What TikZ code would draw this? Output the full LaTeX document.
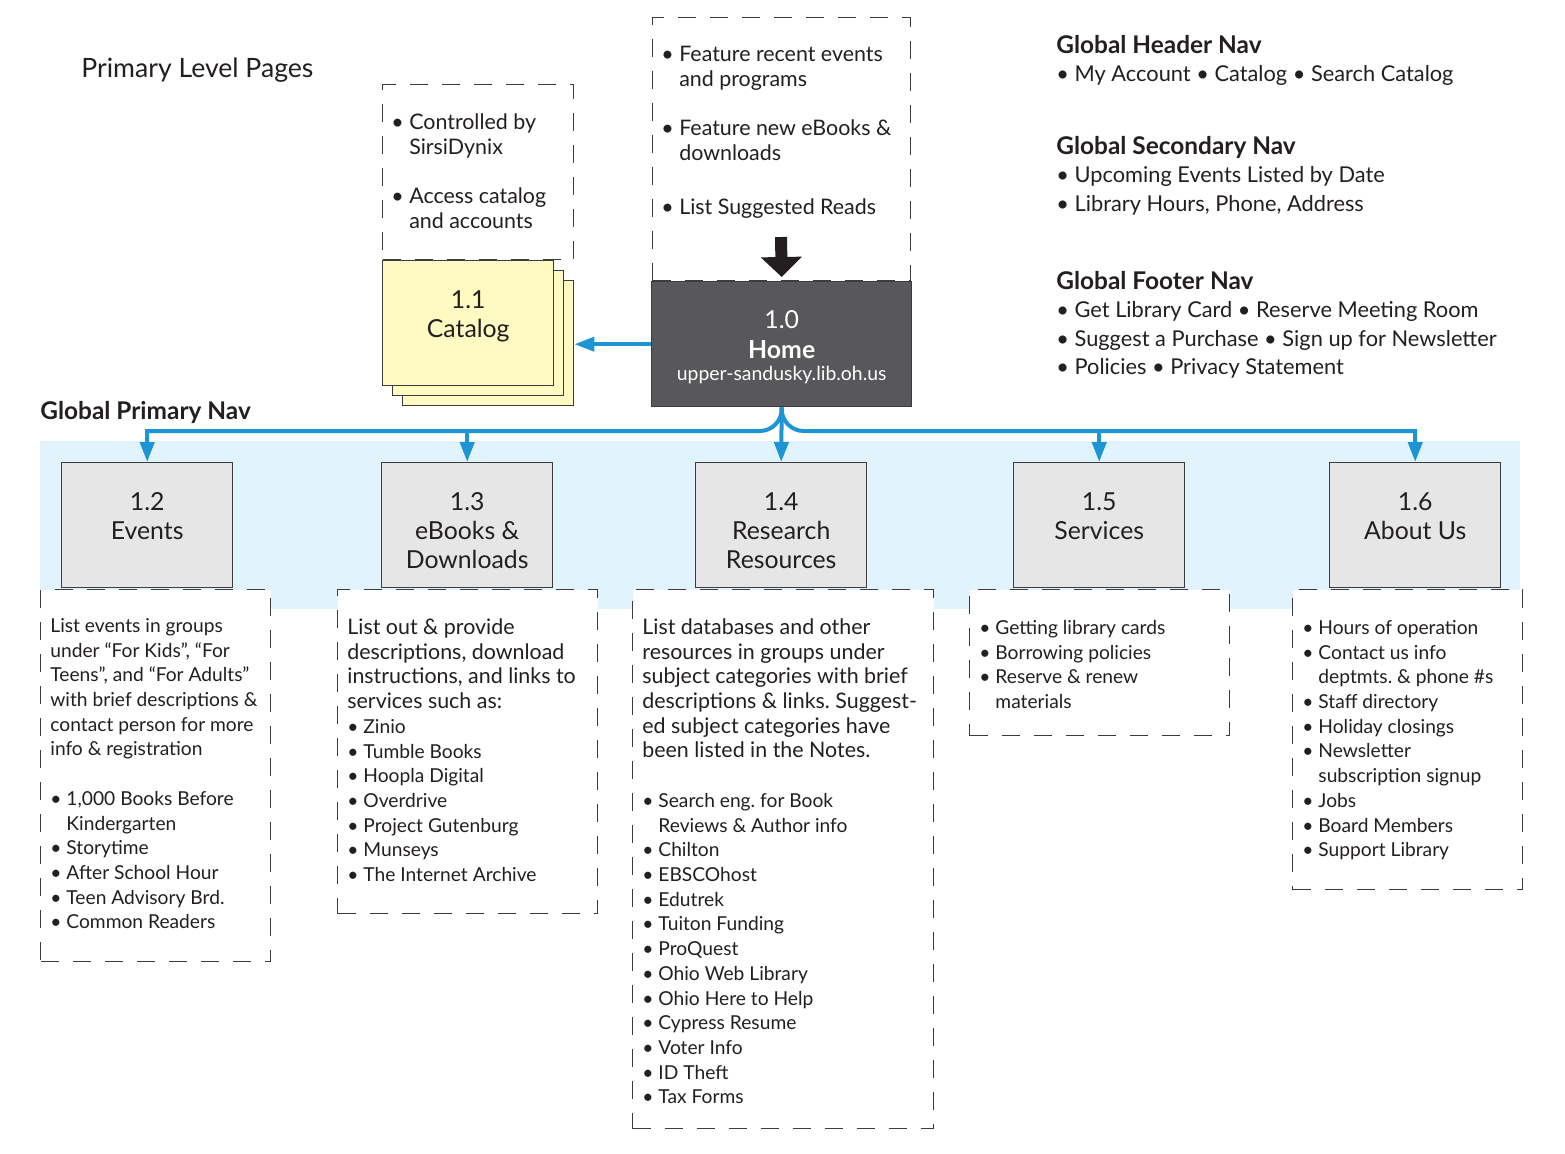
\documentclass[tikz,border=0pt]{standalone}
\usepackage{fontspec}
\setmainfont{Lato}
\usetikzlibrary{arrows.meta, positioning}
\frenchspacing

\definecolor{ink}{HTML}{231F20}
\definecolor{edge}{HTML}{3C3C3C}
\definecolor{homegray}{HTML}{58585A}
\definecolor{pagegray}{HTML}{E6E6E6}
\definecolor{cardyellow}{HTML}{FFFAC2}
\definecolor{navblue}{HTML}{1B95D3}
\definecolor{bandblue}{HTML}{E1F3FC}

\newcommand{\bul}{\textbullet\ }
\newcommand{\ind}{\hphantom{\textbullet\ }}

\tikzset{
  page/.style={draw=edge, line width=0.7pt, fill=pagegray, minimum width=85.5pt, minimum height=62.5pt, inner sep=0pt, anchor=north west},
  card/.style={draw=edge, line width=0.7pt, fill=cardyellow, minimum width=85.5pt, minimum height=62.5pt, inner sep=0pt, anchor=north west},
  notebox/.style={draw=edge, line width=0.7pt, dash pattern=on 9pt off 7pt, fill=white, inner sep=0pt, anchor=north west},
  notetext/.style={inner sep=0pt, anchor=north west, align=left, text=ink, font=\fontsize{9.6}{12.35}\selectfont},
  bigtext/.style={notetext, font=\fontsize{10.7}{12.35}\selectfont},
  pagelabel/.style={inner sep=0pt, align=center, text=ink, font=\fontsize{12.4}{14.5}\selectfont},
  navtext/.style={inner sep=0pt, anchor=north west, align=left, text=ink, font=\fontsize{10.9}{14.25}\selectfont},
  conn/.style={draw=navblue, line width=2pt, -{Triangle[width=7pt,length=10pt]}},
}

\begin{document}
\begin{tikzpicture}[x=0.5pt, y=-0.5pt]
  \useasboundingbox (0,0) rectangle (1565,1153);

  % band behind the primary nav
  \fill[bandblue] (40,441) rectangle (1520,609);

  % titles
  \node[inner sep=0pt, anchor=base west, text=ink, font=\fontsize{13.3}{16}\selectfont] (title) at (81,77) {Primary Level Pages};
  \node[inner sep=0pt, anchor=base west, text=ink, font=\fontsize{12.2}{14}\selectfont\bfseries] (primnav) at (40,419) {Global Primary Nav};

  % global navs
  \node[navtext] (hdrnav) at (1056,33) {{\fontsize{12.2}{14.25}\selectfont\bfseries\strut Global Header Nav}\\
    \bul My Account \bul Catalog \bul Search Catalog};
  \node[navtext] (secnav) at (1056,134) {{\fontsize{12.2}{14.25}\selectfont\bfseries\strut Global Secondary Nav}\\
    \bul Upcoming Events Listed by Date\\
    \bul Library Hours, Phone, Address};
  \node[navtext] (ftrnav) at (1056,269) {{\fontsize{12.2}{14.25}\selectfont\bfseries\strut Global Footer Nav}\\
    \bul Get Library Card \bul Reserve Meeting Room\\
    \bul Suggest a Purchase \bul Sign up for Newsletter\\
    \bul Policies \bul Privacy Statement};

  % notes above catalog and home
  \node[notebox, minimum width=95.5pt, minimum height=87.5pt] (n11) at (382,84) {};
  \node[bigtext] (t11) at (391,111.7) {\strut\bul Controlled by\\ \ind SirsiDynix\\[12.35pt]
    \bul Access catalog\\ \ind and accounts};
  \node[notebox, minimum width=129pt, minimum height=131.5pt] (n10) at (652,17) {};
  \node[bigtext] (t10) at (661,43.7) {\strut\bul Feature recent events\\ \ind and programs\\[12.35pt]
    \bul Feature new eBooks \&\\ \ind downloads\\[15pt]
    \bul List Suggested Reads};

  % catalog stack
  \node[card] (c3) at (402,280) {};
  \node[card] (c2) at (392,270) {};
  \node[card] (c1) at (382,260) {};
  \node[pagelabel, below=13.85pt of c1.north] (l11) {\strut 1.1\\Catalog};

  % home
  \node[draw=edge, line width=0.7pt, fill=homegray, minimum width=130pt, minimum height=62.5pt, inner sep=0pt, anchor=north west] (home) at (651,281) {};
  \node[below=13pt of home.north, inner sep=0pt, align=center, text=white, font=\fontsize{12.4}{15}\selectfont] (l10)
    {\strut 1.0\\ \textbf{Home}\\[-4pt] {\fontsize{9.7}{11}\selectfont upper-sandusky.lib.oh.us}};
  \coordinate (drop) at (781,237);
  \draw[ink, line width=6pt, -{Triangle[width=20pt,length=10pt]}] (drop) -- ([yshift=2pt]home.north);
  \draw[conn] (home.west) -- (home.west -| c3.east);

  % notes below primary pages
  \node[notebox, minimum width=115pt, minimum height=186pt] (n12) at (40,589) {};
  \node[notebox, minimum width=130pt, minimum height=162pt] (n13) at (337,589) {};
  \node[notebox, minimum width=150.5pt, minimum height=269.5pt] (n14) at (632,589) {};
  \node[notebox, minimum width=130pt, minimum height=73pt] (n15) at (969,589) {};
  \node[notebox, minimum width=115pt, minimum height=150pt] (n16) at (1292,589) {};

  % primary pages
  \foreach \id/\x/\txt in {12/61/{1.2\\Events}, 13/381/{1.3\\eBooks \&\\Downloads},
      14/695/{1.4\\Research\\Resources}, 15/1013/{1.5\\Services}, 16/1329/{1.6\\About Us}}{
    \node[page] (e\id) at (\x,462) {};
    \node[pagelabel, below=13.85pt of e\id.north] (l\id) {\strut\txt};
  }

  % primary nav connectors
  \coordinate (bus) at (0,431);
  \draw[conn] (home.south) [rounded corners=11pt] -- (home.south |- bus) [sharp corners] -- (bus -| e12.north) -- (e12.north);
  \draw[conn] (home.south) [rounded corners=11pt] -- (home.south |- bus) [sharp corners] -- (bus -| e16.north) -- (e16.north);
  \draw[conn] (home.south) -- (e14.north);
  \draw[conn] (bus -| e13.north) -- (e13.north);
  \draw[conn] (bus -| e15.north) -- (e15.north);

  % note texts
  \node[notetext] (t12) at (50,614.7) {\strut List events in groups\\ under “For Kids”, “For\\ Teens”, and “For Adults”\\
    with brief descriptions \&\\ contact person for more\\ info \& registration\\[12.35pt]
    \bul 1,000 Books Before\\ \ind Kindergarten\\ \bul Storytime\\ \bul After School Hour\\
    \bul Teen Advisory Brd.\\ \bul Common Readers};
  \node[bigtext] (t13) at (347,616.7) {\strut List out \& provide\\ descriptions, download\\
    instructions, and links to\\ services such as:};
  \node[notetext] (t13b) at (347,715.7) {\strut\bul Zinio\\ \bul Tumble Books\\ \bul Hoopla Digital\\ \bul Overdrive\\
    \bul Project Gutenburg\\ \bul Munseys\\ \bul The Internet Archive};
  \node[bigtext] (t14) at (642,616.7) {\strut List databases and other\\ resources in groups under\\
    subject categories with brief\\ descriptions \& links. Suggest-\\ ed subject categories have\\
    been listed in the Notes.};
  \node[notetext] (t14b) at (642,789.7) {\strut\bul Search eng. for Book\\ \ind Reviews \& Author info\\
    \bul Chilton\\ \bul EBSCOhost\\ \bul Edutrek\\ \bul Tuiton Funding\\ \bul ProQuest\\
    \bul Ohio Web Library\\ \bul Ohio Here to Help\\ \bul Cypress Resume\\ \bul Voter Info\\
    \bul ID Theft\\ \bul Tax Forms};
  \node[notetext] (t15) at (979,616.7) {\strut\bul Getting library cards\\ \bul Borrowing policies\\
    \bul Reserve \& renew\\ \ind materials};
  \node[notetext] (t16) at (1302,616.7) {\strut\bul Hours of operation\\ \bul Contact us info\\
    \ind deptmts. \& phone \#s\\ \bul Staff directory\\ \bul Holiday closings\\ \bul Newsletter\\
    \ind subscription signup\\ \bul Jobs\\ \bul Board Members\\ \bul Support Library};
\end{tikzpicture}
\end{document}
